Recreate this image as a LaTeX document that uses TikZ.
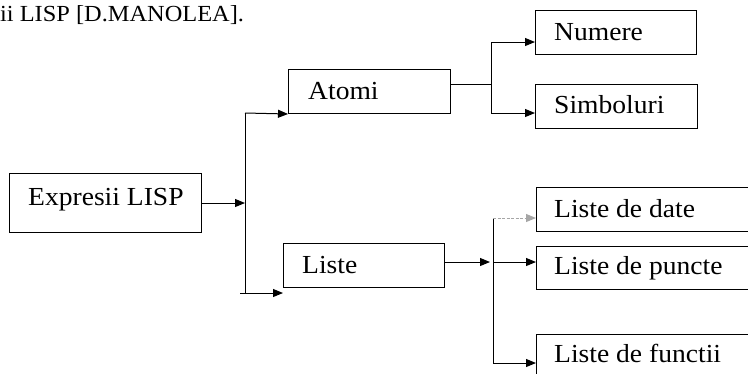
\documentclass[tikz,border=0pt]{standalone}
\usepackage{fontspec}
\setmainfont{Liberation Serif}[FakeStretch=1.06]
\usetikzlibrary{arrows.meta}
\begin{document}
\begin{tikzpicture}[x=1pt,y=-1pt,
  box/.style={draw, line width=1pt, rectangle, anchor=north west, inner sep=0pt},
  lbl/.style={anchor=base west, inner sep=0pt, font=\fontsize{26}{30}\selectfont},
  wire/.style={line width=1pt},
  arr/.style={line width=1pt, -{Triangle[length=10pt,width=8pt]}},
  faint/.style={arr, draw=gray!70, dash pattern=on 3pt off 1.5pt}]
\useasboundingbox (0,0) rectangle (748,373);

% heading line
\node[anchor=base west, inner sep=0pt, font=\fontsize{23}{27}\selectfont] (head) at (0,21) {ii LISP [D.MANOLEA].};

% boxes
\node[box, minimum width=192pt, minimum height=59pt] (expr) at (9,173) {};
\node[box, minimum width=162pt, minimum height=44pt] (atomi) at (288,69) {};
\node[box, minimum width=161pt, minimum height=44pt] (numere) at (535,10) {};
\node[box, minimum width=162pt, minimum height=44pt] (simb) at (535,84) {};
\node[box, minimum width=161pt, minimum height=44pt] (liste) at (283,243) {};
\node[box, minimum width=220pt, minimum height=44pt] (ldate) at (536,187) {};
\node[box, minimum width=220pt, minimum height=43pt] (lpuncte) at (536,246) {};
\node[box, minimum width=220pt, minimum height=50pt] (lfunctii) at (536,334) {};

% labels
\node[lbl] (texpr) at (28,205) {Expresii LISP};
\node[lbl] (tatomi) at (308,99) {Atomi};
\node[lbl] (tnumere) at (554,40) {Numere};
\node[lbl] (tsimb) at (554,113) {Simboluri};
\node[lbl] (tliste) at (302,273) {Liste};
\node[lbl] (tdate) at (554,217) {Liste de date};
\node[lbl] (tpuncte) at (554,274) {Liste de puncte};
\node[lbl] (tfunctii) at (554,362) {Liste de functii};

% junction points
\coordinate (j1) at (245,203);
\coordinate (j1top) at (245,113);
\coordinate (j1bot) at (245,293);
\coordinate (j1start) at (240,293);
\coordinate (j2) at (491,84);
\coordinate (j2top) at (491,42);
\coordinate (j2bot) at (491,113);
\coordinate (j3) at (490,262);
\coordinate (j3top) at (493,218);
\coordinate (j3mid) at (493,262);
\coordinate (j3bot) at (493,363);

% first level
\draw[arr] (expr.east |- j1) -- (j1);
\draw[wire] (j1top) -- (j1bot);
\draw[arr] (j1top) -- (atomi.south west);
\draw[arr] (j1start) -- (liste.west |- j1start);

% atoms
\draw[wire] (atomi.east |- j2) -- (j2);
\draw[wire] (j2top) -- (j2bot);
\draw[arr] (j2top) -- (numere.west |- j2top);
\draw[arr] (j2bot) -- (simb.west |- j2bot);

% lists
\draw[arr] (liste.east |- j3) -- (j3);
\draw[wire] (j3top) -- (j3bot);
\draw[faint] (j3top) -- (ldate.west |- j3top);
\draw[arr] (j3mid) -- (lpuncte.west |- j3mid);
\draw[arr] (j3bot) -- (lfunctii.west |- j3bot);
\end{tikzpicture}
\end{document}
